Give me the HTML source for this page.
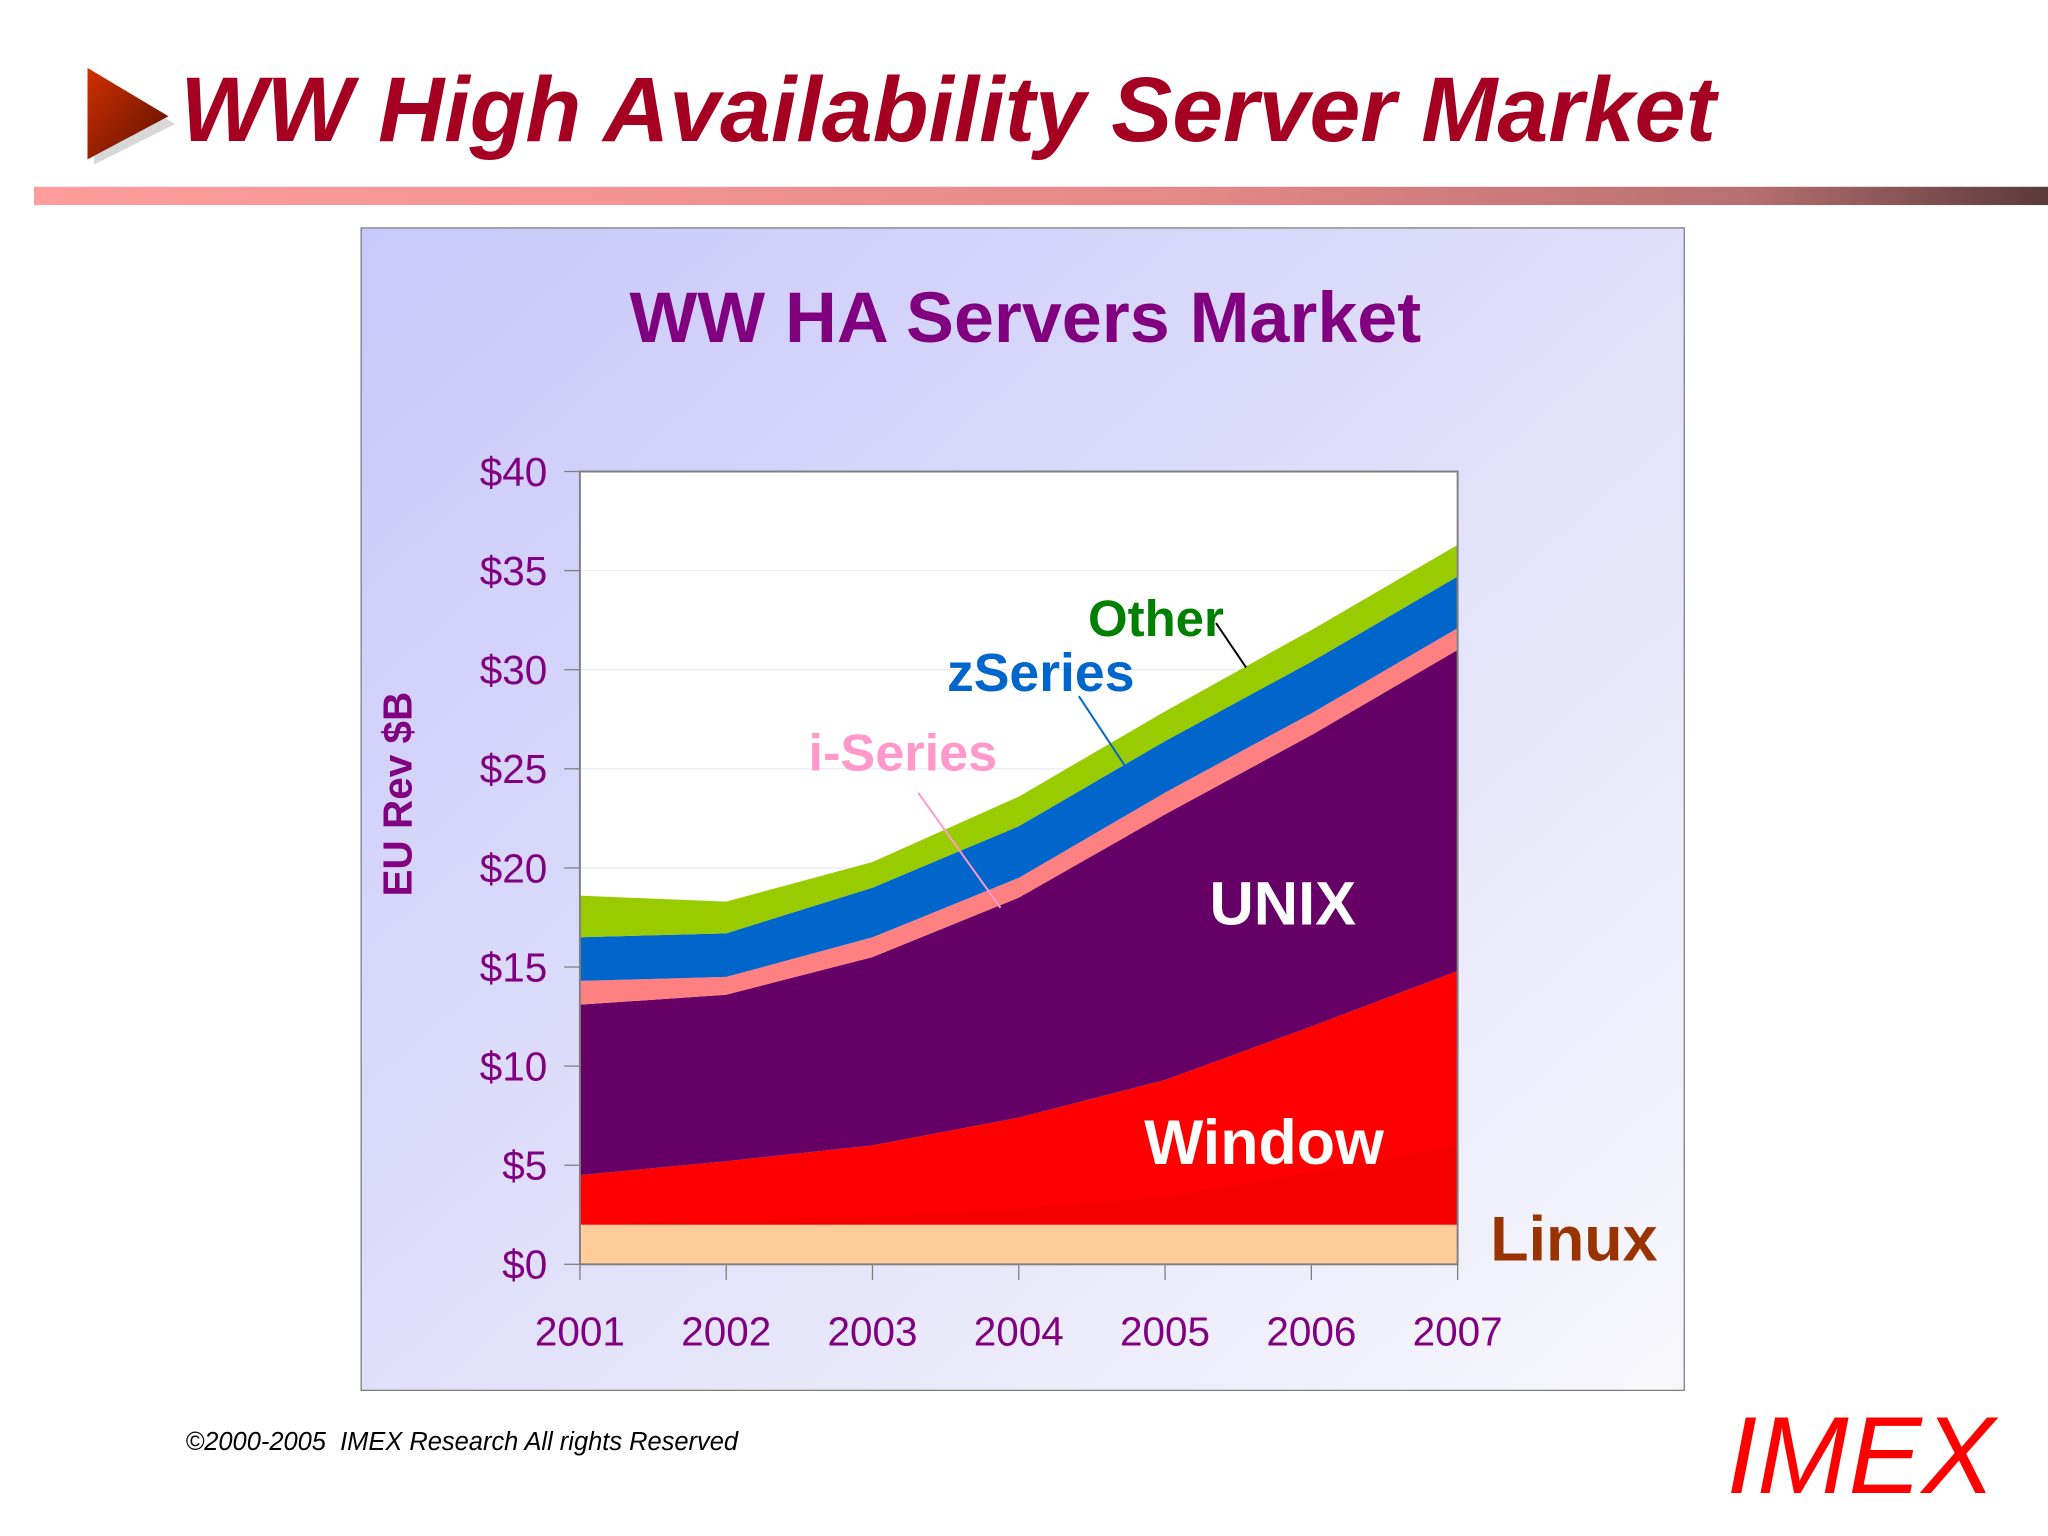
<!DOCTYPE html>
<html><head><meta charset="utf-8"><style>
html,body{margin:0;padding:0;background:#fff;}
svg{display:block;}
text{font-family:"Liberation Sans",sans-serif;}
</style></head><body>
<svg id="svg" width="2048" height="1536" viewBox="0 0 1568 1176" xmlns="http://www.w3.org/2000/svg">
<defs>
<linearGradient id="arrowG" x1="0" y1="0" x2="1" y2="1"><stop offset="0" stop-color="#d03000"/><stop offset="1" stop-color="#5a1000"/></linearGradient>
<linearGradient id="lineG" x1="0" y1="0" x2="1" y2="0"><stop offset="0" stop-color="#ff9d9d"/><stop offset="0.55" stop-color="#e88a8a"/><stop offset="0.85" stop-color="#b87070"/><stop offset="1" stop-color="#5a3a3a"/></linearGradient>
<linearGradient id="boxG" x1="0" y1="0" x2="1" y2="1"><stop offset="0" stop-color="#c8c8fa"/><stop offset="0.6" stop-color="#e4e4fa"/><stop offset="1" stop-color="#f8f8fc"/></linearGradient>
</defs>
<polygon points="72,58 134,95 72,126" fill="#d8d8d8"/>
<polygon points="67,52 129,89 67,122" fill="url(#arrowG)"/>
<text x="138" y="108" font-size="70" font-weight="bold" font-style="italic" fill="#a50021">WW High Availability Server Market</text>
<rect x="26" y="143" width="1542" height="14" fill="url(#lineG)"/>
<rect x="276.5" y="174.5" width="1013" height="890" fill="url(#boxG)" stroke="#808080" stroke-width="1"/>
<text x="785" y="262" font-size="55" font-weight="bold" fill="#800080" text-anchor="middle">WW HA Servers Market</text>
<text transform="translate(315,608) rotate(-90)" font-size="31" font-weight="bold" fill="#800080" text-anchor="middle">EU Rev $B</text>
<g id="chart"></g>
<text x="833" y="487" font-size="39" font-weight="bold" fill="#008000">Other</text>
<line x1="931" y1="477" x2="954" y2="511" stroke="#000" stroke-width="1.5"/>
<text x="725" y="529" font-size="41" font-weight="bold" fill="#0066cc">zSeries</text>
<line x1="826" y1="533" x2="869" y2="598" stroke="#0066cc" stroke-width="1.5"/>
<text x="619" y="590" font-size="40" font-weight="bold" fill="#ff99cc">i-Series</text>
<line x1="703" y1="607" x2="766" y2="695" stroke="#ff99cc" stroke-width="1.5"/>
<text x="926" y="708" font-size="47" font-weight="bold" fill="#ffffff">UNIX</text>
<text x="876" y="891" font-size="48" font-weight="bold" fill="#ffffff">Window</text>
<text x="1141" y="965" font-size="48" font-weight="bold" fill="#993300">Linux</text>
<text x="142" y="1110" font-size="19.5" font-style="italic" fill="#000">©2000-2005&#160; IMEX Research All rights Reserved</text>
<text x="1322" y="1143" font-size="84" font-style="italic" fill="#ff0000">IMEX</text>
</svg>
<script>
const years = ["2001","2002","2003","2004","2005","2006","2007"];
const linux = [2.0,2.0,2.0,2.0,2.0,2.0,2.0];
const windowsLow = [0.0,0.2,0.4,0.8,1.4,2.6,4.0];
const windows = [2.5,3.2,4.0,5.4,7.3,10.0,12.8];
const unix = [8.6,8.4,9.5,11.1,13.4,14.7,16.2];
const iseries = [1.2,0.9,1.0,1.0,1.1,1.1,1.1];
const zseries = [2.2,2.2,2.5,2.6,2.6,2.6,2.6];
const other = [2.1,1.6,1.3,1.5,1.5,1.6,1.6];
const yTicks = [0,5,10,15,20,25,30,35,40];
const yTickLabels = ["$0","$5","$10","$15","$20","$25","$30","$35","$40"];

const NS="http://www.w3.org/2000/svg";
const g=document.getElementById('chart');
const L=444,R=1116,T=361,B=968,YMAX=40;
const xs=i=>L+(R-L)*i/(years.length-1);
const ys=v=>B-(B-T)*v/YMAX;
function mk(tag,attrs){const e=document.createElementNS(NS,tag);for(const k in attrs)e.setAttribute(k,attrs[k]);g.appendChild(e);return e;}
const bg=mk('rect',{x:L,y:T,width:R-L,height:B-T,fill:'#fff'});


yTicks.forEach((v,i)=>{
  if(v>0&&v<YMAX){const gl=mk('line',{x1:L,x2:R,y1:ys(v),y2:ys(v),stroke:'#ececf4','stroke-width':1});
  
  }
  const tk=mk('line',{x1:L-12,x2:L,y1:ys(v),y2:ys(v),stroke:'#808080','stroke-width':1});
  
  
  const t=mk('text',{x:419,y:ys(v)+11,'font-size':31,fill:'#800080','text-anchor':'end'});
  t.textContent=yTickLabels[i];
  
  
});
function area(name,bottom,top,col){
  let d='M'+years.map((_,i)=>xs(i)+','+ys(top[i])).join(' L');
  for(let i=years.length-1;i>=0;i--)d+=' L'+xs(i)+','+ys(bottom[i]);
  const p=mk('path',{d:d+'Z',fill:col});
  
  
}
const series=[["linux",linux,"#ffcc99"],["windows",windows,"#ff0000"],["unix",unix,"#660066"],["iseries",iseries,"#ff8080"],["zseries",zseries,"#0066cc"],["other",other,"#99cc00"]];
let base=years.map(()=>0);
series.forEach(([name,vals,col])=>{
  const top=base.map((b,i)=>b+vals[i]);
  area(name,base,top,col);
  if(name==="windows"){
    const lb=linux.slice();
    area("windows-low",lb,lb.map((b,i)=>b+windowsLow[i]),"#f40000");
  }
  base=top;
});
const frame=mk('rect',{x:L,y:T,width:R-L,height:B-T,fill:'none',stroke:'#808080','stroke-width':1.5});


years.forEach((y,i)=>{
  const tk=mk('line',{x1:xs(i),x2:xs(i),y1:B,y2:B+12,stroke:'#808080','stroke-width':1});
  
  
  const t=mk('text',{x:xs(i),y:1030,'font-size':31,fill:'#800080','text-anchor':'middle'});
  t.textContent=y;
  
  
});
</script>
</body></html>
